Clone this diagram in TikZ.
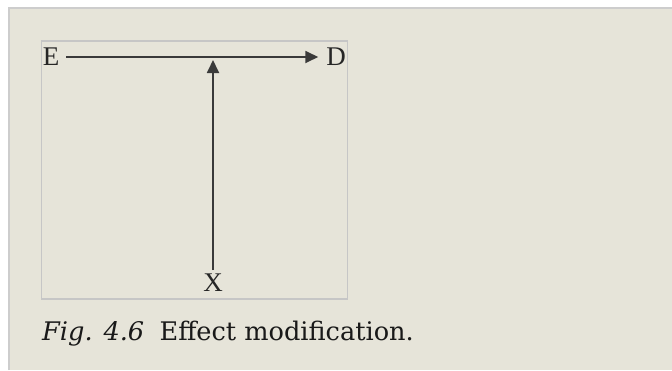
\documentclass[tikz,border=0pt]{standalone}
\usepackage{fontspec}
\setmainfont{Liberation Serif}
\newfontfamily\capfont{DejaVu Serif}
\usetikzlibrary{arrows.meta}
\definecolor{panelbg}{HTML}{E6E4D9}
\definecolor{panelline}{HTML}{CDCDCD}
\definecolor{boxline}{HTML}{C6C6C6}
\definecolor{arrowcol}{HTML}{3A3A3A}
\tikzset{
  var/.style={inner sep=0pt, outer sep=0pt, font=\fontsize{27}{30}\selectfont, text=black!85},
  conn/.style={draw=arrowcol, line width=1.8pt, -{Triangle[length=13pt,width=12pt]}},
  captext/.style={anchor=base west, inner sep=0pt, font=\capfont\fontsize{25.6}{30}\selectfont, text=black!90}
}
\begin{document}
\begin{tikzpicture}[x=1pt,y=-1pt]
\useasboundingbox (0,0) rectangle (672,370);
\fill[white] (0,0) rectangle (672,370);
\fill[panelbg] (9,8) rectangle (672,370);
\draw[panelline, line width=1.5pt] (9,370) -- (9,8) -- (672,8);
\draw[boxline, line width=1.2pt] (41.5,41) rectangle (347.5,299);
\node[var] (E) at (51,57) {E};
\node[var] (D) at (336,57) {D};
\node[var] (X) at (213,283) {X};
\coordinate (M) at (E -| X);
\draw[conn, shorten <=7pt, shorten >=8pt] (E) -- (D);
\draw[conn, shorten <=4pt, shorten >=3pt] (X) -- (M);
\node[captext] (C) at (42,340) {\textit{Fig. 4.6}\hspace{0.6em}Effect modification.};
\end{tikzpicture}
\end{document}
